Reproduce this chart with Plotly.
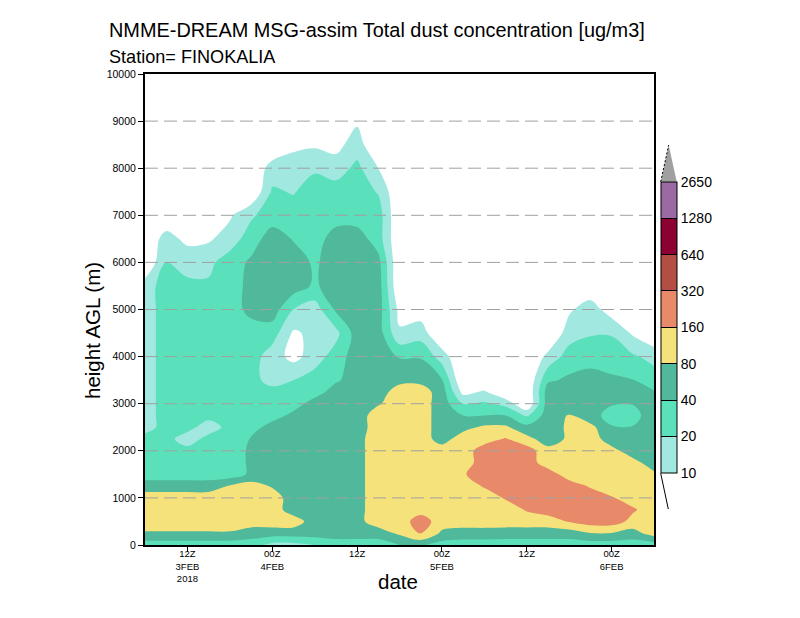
import numpy as np
import plotly.graph_objects as go

# ---------------- data ----------------
times = ["2018-02-03 06:00", "2018-02-03 09:00", "2018-02-03 12:00", "2018-02-03 15:00",
         "2018-02-03 18:00", "2018-02-03 21:00", "2018-02-04 00:00", "2018-02-04 03:00",
         "2018-02-04 06:00", "2018-02-04 09:00", "2018-02-04 12:00", "2018-02-04 15:00",
         "2018-02-04 18:00", "2018-02-04 21:00", "2018-02-05 00:00", "2018-02-05 03:00",
         "2018-02-05 06:00", "2018-02-05 09:00", "2018-02-05 12:00", "2018-02-05 15:00",
         "2018-02-05 18:00", "2018-02-05 21:00", "2018-02-06 00:00", "2018-02-06 03:00",
         "2018-02-06 06:00"]

heights = [0, 250, 500, 750, 1000, 1250, 1500, 1750, 2000, 2250, 2500, 2750, 3000, 3250,
           3500, 4000, 4500, 5000, 5500, 6000, 6500, 7000, 7500, 8000, 8500, 9000, 9500, 10000]

# dust concentration profiles (ug/m3), one per time, bottom -> top
p03_06 = [28,75,113,113,113,57,28,28,28,28,14,14,14,14,14,14,14,14,14,5,5,5,5,5,5,5,5,5]
p03_09 = [28,75,113,113,113,57,28,28,28,28,28,28,28,28,28,28,28,28,28,20,14,5,5,5,5,5,5,5]
p03_12 = [28,75,113,113,113,57,28,28,28,12,28,28,28,28,28,28,28,28,22,17,8,5,5,5,5,5,5,5]
p03_15 = [28,75,113,113,113,57,28,28,28,28,12,28,28,28,28,28,28,28,22,17,9,5,5,5,5,5,5,5]
p03_18 = [28,75,113,113,113,85,28,28,28,28,28,28,28,28,28,28,28,28,28,28,14,9,5,5,5,5,5,5]
p03_21 = [28,57,113,113,113,113,45,45,45,42,28,28,28,28,28,28,28,50,50,45,28,18,5,5,5,5,5,5]
p04_00 = [16,57,113,113,113,75,57,57,57,57,57,28,28,28,14,14,28,57,57,57,57,28,22,14,5,5,5,5]
p04_03 = [16,57,113,57,57,57,57,57,57,57,57,50,28,28,20,8,9,20,57,57,38,28,19,16,8,5,5,5]
p04_06 = [20,57,57,57,57,57,57,57,57,57,57,57,57,28,28,14,12,14,36,36,28,28,28,18,9,5,5,5]
p04_09 = [28,57,57,57,57,57,57,57,57,57,57,57,57,57,36,28,16,45,57,57,57,28,28,14,8,5,5,5]
p04_12 = [28,57,65,65,65,65,65,65,65,65,57,57,57,57,57,57,57,57,57,57,57,28,28,24,14,9,5,5]
p04_15 = [28,57,113,113,113,113,113,113,113,113,113,113,75,57,57,57,57,57,57,50,28,28,19,10,5,5,5,5]
p04_18 = [40,90,113,113,113,113,113,113,113,113,113,113,113,113,65,38,11,8,5,5,5,5,5,5,5,5,5,5]
p04_21 = [45,170,226,120,113,113,113,113,113,113,113,113,113,113,65,38,14,7,5,5,5,5,5,5,5,5,5,5]
p05_00 = [30,70,113,113,113,113,113,113,113,60,57,57,57,57,42,14,5,5,5,5,5,5,5,5,5,5,5,5]
p05_03 = [28,60,113,113,113,113,150,113,113,113,65,40,20,8,5,5,5,5,5,5,5,5,5,5,5,5,5,5]
p05_06 = [28,60,113,113,113,170,226,226,226,120,90,40,22,11,5,5,5,5,5,5,5,5,5,5,5,5,5,5]
p05_09 = [28,57,113,113,170,226,226,226,226,170,90,40,16,5,5,5,5,5,5,5,5,5,5,5,5,5,5,5]
p05_12 = [28,57,113,170,226,226,226,226,226,100,50,18,5,5,5,5,5,5,5,5,5,5,5,5,5,5,5,5]
p05_15 = [28,57,113,226,226,226,226,113,100,57,57,57,57,57,36,12,5,5,5,5,5,5,5,5,5,5,5,5]
p05_18 = [28,57,170,226,226,226,113,113,113,90,90,84,57,57,45,28,14,9,5,5,5,5,5,5,5,5,5,5]
p05_21 = [28,78,226,226,226,150,113,113,113,113,100,50,57,57,57,28,19,14,6,5,5,5,5,5,5,5,5,5]
p06_00 = [28,78,226,226,170,113,113,113,100,57,42,32,42,57,45,28,19,7,5,5,5,5,5,5,5,5,5,5]
p06_03 = [28,60,130,175,120,113,113,100,57,57,42,28,42,45,41,22,9,5,5,5,5,5,5,5,5,5,5,5]
p06_06 = [28,113,113,113,113,113,90,57,57,57,57,70,57,42,28,16,5,5,5,5,5,5,5,5,5,5,5,5]

profiles = [p03_06, p03_09, p03_12, p03_15, p03_18, p03_21, p04_00, p04_03, p04_06,
            p04_09, p04_12, p04_15, p04_18, p04_21, p05_00, p05_03, p05_06, p05_09,
            p05_12, p05_15, p05_18, p05_21, p06_00, p06_03, p06_06]

levels = [10, 20, 40, 80, 160, 320, 640, 1280, 2650]
level_labels = ["10", "20", "40", "80", "160", "320", "640", "1280", "2650"]
band_colors = ["#a0e8e0", "#5ae0ba", "#50b99b", "#f6e27a", "#e8896a",
               "#b24f42", "#8c0032", "#9b6aa3"]
over_color = "#a0a0a0"

x_tickvals = ["2018-02-03 12:00", "2018-02-04 00:00", "2018-02-04 12:00",
              "2018-02-05 00:00", "2018-02-05 12:00", "2018-02-06 00:00"]
x_ticktext = ["12Z<br>3FEB<br>2018", "00Z<br>4FEB", "12Z", "00Z<br>5FEB", "12Z", "00Z<br>6FEB"]
y_tickvals = [0, 1000, 2000, 3000, 4000, 5000, 6000, 7000, 8000, 9000, 10000]
grid_heights = y_tickvals[1:-1]

# ---------------- transform to level-index space ----------------
conc = np.array(profiles, dtype=float).T  # rows = heights, cols = times
lvl_idx = np.arange(1, len(levels) + 1)
z = np.where(conc < levels[0], np.log2(conc / levels[0]) + 1,
             np.interp(np.log(conc), np.log(levels), lvl_idx))

# step colorscale for contour fill: domain [0, 9]
n_dom = 9.0
cs = [[0.0, "#ffffff"], [1 / n_dom, "#ffffff"]]
for k, col in enumerate(band_colors):
    lo = (k + 1) / n_dom
    hi = (k + 2) / n_dom if k < len(band_colors) - 1 else 0.97
    cs += [[lo, col], [hi, col]]
cs += [[0.97, over_color], [1.0, over_color]]

# step colorscale for colour bar (8 bands)
nb = len(band_colors)
cb_scale = []
for k, col in enumerate(band_colors):
    cb_scale += [[k / nb, col], [(k + 1) / nb, col]]

FONT = "Liberation Sans, Arial, sans-serif"

fig = go.Figure()
fig.add_trace(go.Contour(
    x=times, y=heights, z=z,
    colorscale=cs, showscale=False,
    autocontour=False,
    contours=dict(start=1, end=9, size=1, coloring="fill", showlines=False),
    line=dict(width=0, smoothing=1),
    hoverinfo="skip",
))

# colour bar carrier
fig.add_trace(go.Scatter(
    x=[None], y=[None], mode="markers", showlegend=False, hoverinfo="skip",
    marker=dict(color=[0], cmin=0, cmax=nb, colorscale=cb_scale, showscale=True,
                colorbar=dict(
                    x=(660.7 - 145) / 509, xanchor="left", xpad=0,
                    y=(545 - 327.35) / 471, yanchor="middle", ypad=0,
                    len=291.3, lenmode="pixels",
                    thickness=16, thicknessmode="pixels",
                    outlinewidth=1, outlinecolor="black",
                    tickvals=list(range(nb + 1)), ticktext=level_labels,
                    ticks="inside", ticklen=16, tickwidth=1, tickcolor="black",
                    tickfont=dict(family=FONT, size=14, color="black"),
                ))
))

def px(xp):
    return (xp - 145) / 509

def py(yp):
    return (545 - yp) / 471

shapes = []
for h in grid_heights:
    shapes.append(dict(type="line", xref="paper", x0=0, x1=1, yref="y", y0=h, y1=h,
                       line=dict(color="#a0a0a0", width=1, dash="13px,6px"), layer="above"))
# colour bar end triangles
shapes.append(dict(type="path", xref="paper", yref="paper",
                   path=f"M {px(660.7)} {py(181.7)} L {px(676.7)} {py(181.7)} L {px(668.7)} {py(145)} Z",
                   fillcolor=over_color, line=dict(width=0), layer="above"))
shapes.append(dict(type="line", xref="paper", yref="paper",
                   x0=px(660.7), y0=py(181.7), x1=px(668.7), y1=py(145),
                   line=dict(color="black", width=1, dash="2px,2px"), layer="above"))
shapes.append(dict(type="line", xref="paper", yref="paper",
                   x0=px(660.7), y0=py(473.3), x1=px(668.3), y1=py(509),
                   line=dict(color="black", width=1), layer="above"))

annotations = [
    dict(text="NMME-DREAM MSG-assim Total dust concentration [ug/m3]", xref="paper", yref="paper",
         x=px(107), y=py(30), xanchor="left", yanchor="middle", showarrow=False,
         font=dict(family=FONT, size=19.9, color="black")),
    dict(text="Station= FINOKALIA", xref="paper", yref="paper",
         x=px(107), y=py(57.5), xanchor="left", yanchor="middle", showarrow=False,
         font=dict(family=FONT, size=18.1, color="black")),
    dict(text="height AGL (m)", xref="paper", yref="paper", textangle=-90,
         x=px(92), y=py(331), xanchor="center", yanchor="middle", showarrow=False,
         font=dict(family=FONT, size=20.5, color="black")),
    dict(text="date", xref="paper", yref="paper",
         x=px(398), y=py(581), xanchor="center", yanchor="middle", showarrow=False,
         font=dict(family=FONT, size=20.5, color="black")),
]

fig.update_layout(
    width=800, height=618, autosize=False,
    margin=dict(l=145, r=146, t=74, b=73, pad=0),
    paper_bgcolor="white", plot_bgcolor="white",
    showlegend=False,
    shapes=shapes, annotations=annotations,
    xaxis=dict(type="date", range=[times[0], times[-1]],
               tickvals=x_tickvals, ticktext=x_ticktext,
               ticks="outside", ticklen=5, tickcolor="black", tickwidth=1,
               ticklabelstandoff=-6,
               showgrid=False, zeroline=False,
               showline=True, linecolor="black", linewidth=2, mirror=True,
               tickfont=dict(family=FONT, size=9.5, color="black"),
               layer="above traces"),
    yaxis=dict(range=[0, 10000], tickvals=y_tickvals,
               ticktext=[str(v) for v in y_tickvals],
               ticks="outside", ticklen=5, tickcolor="black", tickwidth=1,
               showgrid=False, zeroline=False,
               showline=True, linecolor="black", linewidth=2, mirror=True,
               tickfont=dict(family=FONT, size=10.5, color="black"),
               layer="above traces"),
)

fig.write_html("out.html")
